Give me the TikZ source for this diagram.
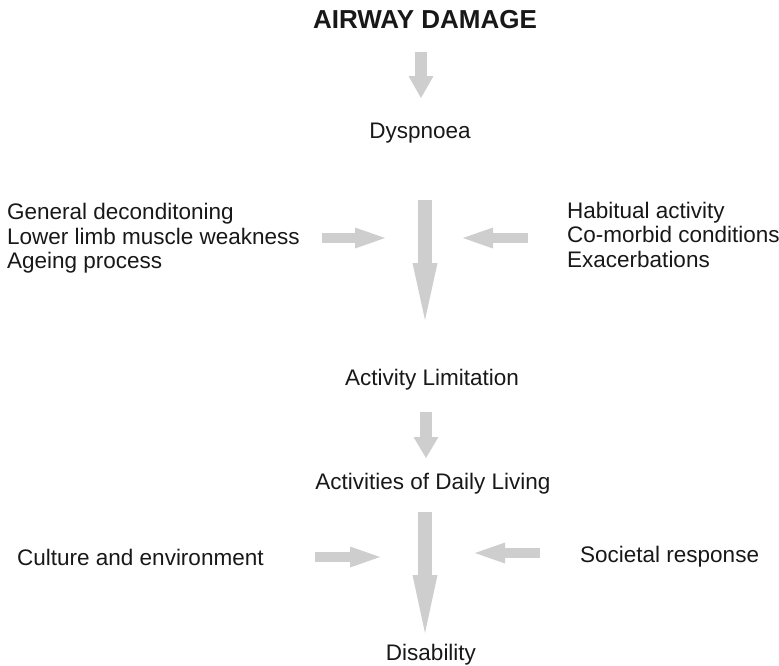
\documentclass[tikz,border=0pt]{standalone}
\usepackage{fontspec}
\setmainfont{Liberation Sans}
\usetikzlibrary{arrows.meta}
\definecolor{arrowgray}{RGB}{206,206,206}
\definecolor{txt}{RGB}{24,24,24}
\tikzset{
  lbl/.style={inner sep=0pt, anchor=base, text=txt, font=\fontsize{22.5}{27}\selectfont},
  lblw/.style={lbl, anchor=base west},
  ttl/.style={inner sep=0pt, anchor=base, text=txt, font=\fontsize{26}{30}\selectfont\bfseries},
  bigarrow/.style={draw=arrowgray, line width=14pt, -{Triangle[length=57pt,width=25pt,line width=0pt]}},
  smallarrow/.style={draw=arrowgray, line width=12pt, -{Triangle[length=22pt,width=25pt,line width=0pt]}},
  sidearrow/.style={draw=arrowgray, line width=10pt, -{Triangle[length=30pt,width=21pt,line width=0pt]}}
}
\begin{document}
\begin{tikzpicture}[x=1pt,y=-1pt]
\useasboundingbox (0,0) rectangle (779,665);
% texts
\node[ttl] (title) at (425,28.5) {AIRWAY DAMAGE};
\node[lbl] (dysp) at (420,138) {Dyspnoea};
\node[lblw] (l1) at (7,219.5) {General deconditoning};
\node[lblw] (l2) at (7,244) {Lower limb muscle weakness};
\node[lblw] (l3) at (7,268.5) {Ageing process};
\node[lblw] (r1) at (567,218) {Habitual activity};
\node[lblw] (r2) at (567,242.5) {Co-morbid conditions};
\node[lblw] (r3) at (567,267.5) {Exacerbations};
\node[lbl] (actlim) at (432,385) {Activity Limitation};
\node[lbl] (adl) at (433,489) {Activities of Daily Living};
\node[lblw] (cult) at (17,565) {Culture and environment};
\node[lblw] (soc) at (580,562) {Societal response};
\node[lbl] (dis) at (431,660) {Disability};
% arrow end points
\coordinate (a1s) at (421,52);  \coordinate (a1e) at (421,98);
\coordinate (a2s) at (425,200); \coordinate (a2e) at (425,320);
\coordinate (l1s) at (322,238); \coordinate (l1e) at (385,238);
\coordinate (r1s) at (528,238); \coordinate (r1e) at (463,238);
\coordinate (a3s) at (426,412); \coordinate (a3e) at (426,458);
\coordinate (a4s) at (425,512); \coordinate (a4e) at (425,633);
\coordinate (l2s) at (315,557); \coordinate (l2e) at (380,557);
\coordinate (r2s) at (540,553); \coordinate (r2e) at (475,553);
% arrows
\draw[smallarrow] (a1s) -- (a1e);
\draw[bigarrow] (a2s) -- (a2e);
\draw[sidearrow] (l1s) -- (l1e);
\draw[sidearrow] (r1s) -- (r1e);
\draw[smallarrow, -{Triangle[length=21pt,width=25pt,line width=0pt]}] (a3s) -- (a3e);
\draw[bigarrow, -{Triangle[length=58pt,width=25pt,line width=0pt]}] (a4s) -- (a4e);
\draw[sidearrow] (l2s) -- (l2e);
\draw[sidearrow] (r2s) -- (r2e);
\end{tikzpicture}
\end{document}
